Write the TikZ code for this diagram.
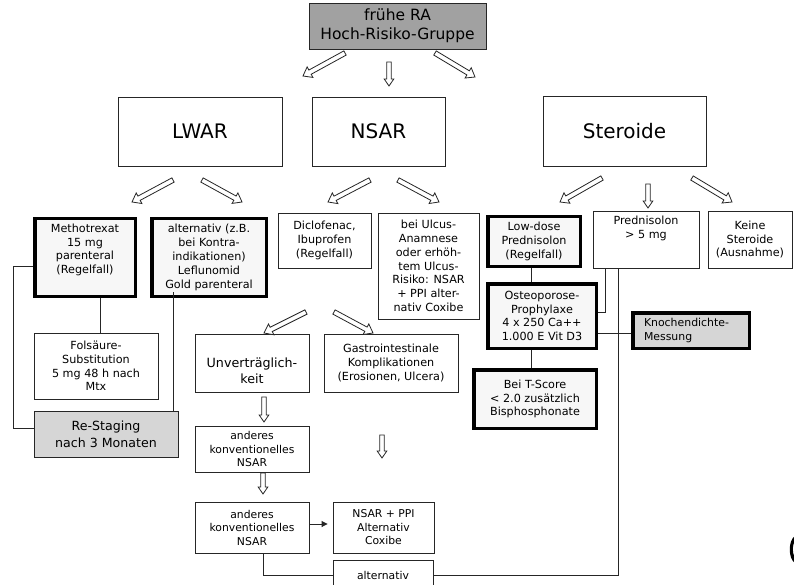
\documentclass[tikz,border=0pt]{standalone}
\usepackage{fontspec}
\setmainfont{DejaVu Sans}
\usetikzlibrary{calc,arrows.meta}

\newcommand\fsmall{\fontsize{11.2}{13.8}\selectfont}
\newcommand\fmid{\fontsize{12.7}{15.5}\selectfont}
\newcommand\fbig{\fontsize{20}{24}\selectfont}
\newcommand\ftop{\fontsize{15.5}{19}\selectfont}

% hollow block arrow: start, end, shaft half width, head half width, head length
\newcommand\harrow[5]{%
  \coordinate (hA) at (#1);
  \coordinate (hB) at (#2);
  \coordinate (hH) at ($(hB)!#5pt!(hA)$);
  \draw[harr] ($(hA)!#3pt!90:(hB)$) -- ($(hH)!#3pt!90:(hB)$) -- ($(hH)!#4pt!90:(hB)$)
    -- (hB) -- ($(hH)!#4pt!-90:(hB)$) -- ($(hH)!#3pt!-90:(hB)$) -- ($(hA)!#3pt!-90:(hB)$) -- cycle;
}

\tikzset{
  box/.style={draw=black!85, line width=0.9pt, fill=white, align=center, inner sep=0pt, font=\fsmall},
  thickbox/.style={box, draw=black, line width=3.5pt, fill=black!3},
  greyfill/.style={fill=black!16},
  sz/.style 2 args={minimum width=#1pt, minimum height=#2pt},
  conn/.style={draw=black!85, line width=0.9pt},
  harr/.style={draw=black!85, line width=0.8pt, fill=white, line join=miter},
}

\begin{document}
\begin{tikzpicture}[x=1pt,y=-1pt]
\useasboundingbox (0,0) rectangle (794,585);
\clip (0,0) rectangle (794,585);
\fill[white] (0,0) rectangle (794,585);

% top level
\node[box, sz={177}{46}, fill=black!37, font=\ftop] (top) at (397.5,26) {frühe RA\\Hoch-Risiko-Gruppe};

% therapy groups
\node[box, sz={164}{69}, font=\fbig] (lwar) at (200,131.5) {LWAR};
\node[box, sz={133}{69}, font=\fbig] (nsar) at (378.5,131.5) {NSAR};
\node[box, sz={163}{70}, font=\fbig] (ster) at (624.5,131) {Steroide};

% LWAR branch
\node[thickbox, sz={100.5}{77.5}] (meth) at (85,257.5) {};
\node[align=center, inner sep=0pt, font=\fsmall] (methtxt) at (85,250) {Methotrexat\\15 mg\\parenteral\\(Regelfall)};
\node[thickbox, sz={114.5}{77.5}] (alt) at (209,257.5) {alternativ (z.B.\\bei Kontra-\\indikationen)\\Leflunomid\\Gold parenteral};
\node[box, sz={124}{66}] (fols) at (96,366) {Folsäure-\\Substitution\\5 mg 48 h nach\\Mtx};
\node[box, sz={144}{46}, greyfill, font=\fontsize{12.6}{17}\selectfont] (restage) at (106,434) {Re-Staging\\nach 3 Monaten};

% NSAR branch
\node[box, sz={93}{55}] (diclo) at (324.5,240.5) {Diclofenac,\\Ibuprofen\\(Regelfall)};
\node[box, sz={101}{106}] (ulcus) at (428.5,266) {bei Ulcus-\\Anamnese\\oder erhöh-\\tem Ulcus-\\Risiko: NSAR\\+ PPI alter-\\nativ Coxibe};
\node[box, sz={114}{58}] (unv) at (252,363) {};
\node[align=center, inner sep=0pt, font=\fmid] (unvtxt) at (252,371) {Unverträglich-\\keit};
\node[box, sz={134}{58}] (gastro) at (391,363) {Gastrointestinale\\Komplikationen\\(Erosionen, Ulcera)};
\node[box, sz={114}{46}, font=\fontsize{10.8}{13.5}\selectfont] (and1) at (252,449) {anderes\\konventionelles\\NSAR};
\node[box, sz={114}{51}, font=\fontsize{10.8}{13.5}\selectfont] (and2) at (252,527.5) {anderes\\konventionelles\\NSAR};
\node[box, sz={101}{51}, font=\fontsize{10.8}{13.5}\selectfont] (ppi) at (383.5,527.5) {NSAR + PPI\\Alternativ\\Coxibe};
\node[box, sz={100}{30}, font=\fontsize{10.8}{13.5}\selectfont] (altv) at (383,575) {alternativ};

% Steroid branch
\node[thickbox, sz={92.5}{49.5}] (lowdose) at (534,241.5) {Low-dose\\Prednisolon\\(Regelfall)};
\node[box, sz={106}{57}] (pred) at (646,239.5) {};
\node[align=center, inner sep=0pt, font=\fsmall, anchor=north] (predtxt) at (646,216) {Prednisolon\\> 5 mg};
\node[box, sz={84}{57}] (keine) at (750,239.5) {Keine\\Steroide\\(Ausnahme)};
\node[thickbox, sz={108.5}{64.5}] (osteo) at (542,316) {Osteoporose-\\Prophylaxe\\4 x 250 Ca++\\1.000 E Vit D3};
\node[thickbox, sz={116.5}{35.5}, greyfill, text width=94pt, align=left, font=\fontsize{10.9}{14.5}\selectfont] (knoch) at (691,330.5) {Knochendichte-\\Messung};
\node[thickbox, sz={122.5}{58.5}] (tscore) at (535,399) {Bei T-Score\\< 2.0 zusätzlich\\Bisphosphonate};

% connecting lines
\draw[conn] ([xshift=15pt]meth.south) coordinate (m1) -- (m1 |- fols.north);
\draw[conn] ($(meth.west)+(0,8.5)$) -- ++(-20,0) |- ($(restage.west)+(0,-6)$);
\draw[conn] ([xshift=-36pt,yshift=6pt]alt.south) coordinate (a1) -- (a1 |- restage.north);
\draw[conn] ([xshift=-3pt]lowdose.south) coordinate (l1) -- (l1 |- osteo.north);
\draw[conn] (l1 |- osteo.south) -- (l1 |- tscore.north);
\draw[conn] ($(knoch.west)+(0,2.5)$) coordinate (k1) -- (k1 -| osteo.east);
\draw[conn] ([xshift=-41pt]pred.south) |- ([yshift=4pt]osteo.east);
\draw[conn] ([xshift=-28pt]pred.south) |- (altv.east);
\draw[conn] ([xshift=11pt]and2.south) |- (altv.west);
\draw[conn, -{Triangle[length=6pt,width=6pt]}, shorten >=5pt] ([yshift=3.5pt]and2.east) coordinate (p1) -- (p1 -| ppi.west);

% hollow arrows
\harrow{345,53}{303,76}{2.4}{6}{8}
\harrow{389,62}{389,86}{2.2}{4.8}{7}
\harrow{435,53}{475,77}{2.4}{6}{8}
\harrow{173,180}{132,202}{2.4}{6}{8}
\harrow{202,180}{242,202}{2.4}{6}{8}
\harrow{370,180}{328,202}{2.4}{6}{8}
\harrow{398,180}{439,202}{2.4}{6}{8}
\harrow{602,178}{560,202}{2.4}{6}{8}
\harrow{648,184}{648,208}{2.2}{4.8}{7}
\harrow{692,178}{732,202}{2.4}{6}{8}
\harrow{306,312}{264,333}{2.4}{6}{8}
\harrow{334,312}{373,333}{2.4}{6}{8}
\harrow{264,397}{264,422}{2.2}{4.8}{7}
\harrow{263,473}{263,494}{2.2}{4.8}{7}
\harrow{382,435}{382,458}{2.2}{4.8}{7}

% dark curved stroke at the right edge
\fill[black] (795,536) .. controls (788,540) and (788,559) .. (795,563)
  -- (795,558) .. controls (792,553) and (792,545) .. (795,541) -- cycle;
\end{tikzpicture}
\end{document}
